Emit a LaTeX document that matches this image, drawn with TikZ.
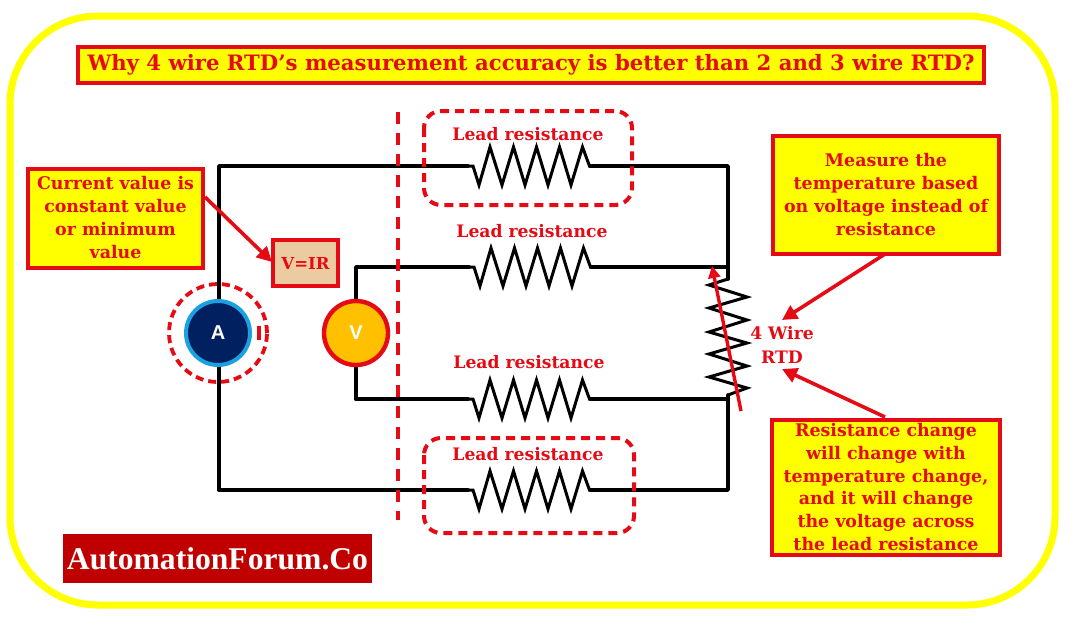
\documentclass[tikz,border=0pt]{standalone}
\usepackage{fontspec}
\setmainfont{DejaVu Serif}
\newfontfamily\logofont{Liberation Serif}
\newfontfamily\metersans{Liberation Sans}
\usetikzlibrary{arrows.meta}
\definecolor{rd}{HTML}{E60A14}
\definecolor{yl}{HTML}{FFFF00}
\definecolor{navy}{HTML}{002060}
\definecolor{sky}{HTML}{1BA1E2}
\definecolor{amber}{HTML}{FFC000}
\definecolor{tan}{HTML}{EBCB9F}
\definecolor{logored}{HTML}{C00000}
\tikzset{
  x=1pt,y=-1pt,
  wire/.style={draw=black,line width=3.6pt,line cap=round,line join=round},
  zigwire/.style={draw=black,line width=3pt,line join=miter},
  note/.style={draw=rd,line width=4pt,fill=yl,text=rd,font=\bfseries\fontsize{17.4}{23}\selectfont,align=center,inner sep=0pt,minimum width=0pt},
  lbl/.style={text=rd,font=\bfseries\fontsize{17.2}{23.5}\selectfont,align=center,inner sep=0pt},
  dashbox/.style={draw=rd,line width=4pt,dash pattern=on 9pt off 6pt,rounded corners=17pt},
  callout/.style={draw=rd,line width=3.6pt,-{Triangle[length=15pt,width=15pt]}},
}
\newcommand{\resistor}[3]{%
  \coordinate (#1a) at (#2,#3);
  \coordinate (#1b) at (#2+122,#3);
  \draw[zigwire] (#1a) -- ++(5,0) -- ++(6,19) -- ++(11,-38) -- ++(12,38) -- ++(11.5,-38) -- ++(11.5,38) -- ++(11.5,-38) -- ++(11.5,38) -- ++(11.5,-38) -- ++(11.5,38) -- ++(11.5,-38) -- ++(7,19) -- (#1b);
}
\begin{document}
\begin{tikzpicture}
\useasboundingbox (0,0) rectangle (1086,633);
\fill[white] (0,0) rectangle (1086,633);
\draw[yl,line width=7pt,rounded corners=88pt] (10,16) rectangle (1055,605);

% wires and resistors
\resistor{ra}{468}{166}
\resistor{rb}{469}{267}
\resistor{rc}{468}{399}
\resistor{rd}{468}{490}
\coordinate (tl) at (219,166);
\coordinate (bl) at (219,490);
\coordinate (tr) at (728,166);
\coordinate (br) at (728,490);
\coordinate (vt) at (356,267);
\coordinate (vb) at (356,399);
\coordinate (mt) at (728,267);
\coordinate (mb) at (728,399);
\coordinate (zt) at (728,279);
\coordinate (zb) at (728,395);
\draw[wire] (bl) -- (tl) -- (raa);
\draw[wire] (rab) -- (tr) -- (zt);
\draw[wire] (vb) -- (vt) -- (rba);
\draw[wire] (rbb) -- (mt);
\draw[wire] (vb) -- (rca);
\draw[wire] (rcb) -- (mb);
\draw[wire] (bl) -- (rda);
\draw[wire] (rdb) -- (br) -- (zb);
\draw[zigwire] (zt) -- (709,285) -- (747,297) -- (709,308) -- (747,320) -- (709,332) -- (747,343) -- (709,354) -- (747,366) -- (709,377) -- (747,388) -- (zb);

% separators and dashed groups
\coordinate (sepa) at (398,112);
\coordinate (sepb) at (398,520);
\draw[rd,line width=3.8pt,dash pattern=on 12pt off 9pt] (sepa) -- (sepb);
\draw[dashbox] (424,111) rectangle (632,205);
\draw[dashbox] (424,438) rectangle (634,533);

% title
\node[note,font=\bfseries\fontsize{21.2}{24}\selectfont,minimum width=906pt,minimum height=36pt] (title) at (531,64.5) {Why 4 wire RTD’s measurement accuracy is better than 2 and 3 wire RTD?};

% meters
\node[circle,draw=rd,line width=3.8pt,dash pattern=on 8pt off 5pt,minimum size=98pt,inner sep=0pt] (ring) at (218,333) {};
\draw[rd,line width=3.4pt] (259,326) -- (259,340);
\node[circle,draw=sky,line width=4pt,fill=navy,minimum size=64pt,inner sep=0pt,text=white,font=\metersans\bfseries\fontsize{20}{20}\selectfont] (amm) at (218,333) {A};
\node[circle,draw=rd,line width=4.4pt,fill=amber,minimum size=64pt,inner sep=0pt,text=white,font=\metersans\bfseries\fontsize{20}{20}\selectfont] (vm) at (356,333) {V};

% notes
\node[note,minimum width=175pt,minimum height=99pt] (cur) at (115.5,218) {Current value is\\constant value\\or minimum\\value};
\node[note,fill=tan,font=\bfseries\fontsize{16.5}{20}\selectfont,minimum width=65pt,minimum height=46pt] (vir) at (305.5,263) {V=IR};
\node[note,minimum width=226pt,minimum height=118pt] (meas) at (886,194.5) {Measure the\\temperature based\\on voltage instead of\\resistance};
\node[note,font=\bfseries\fontsize{17.4}{22.6}\selectfont,minimum width=228pt,minimum height=135pt] (chg) at (886,487) {Resistance change\\will change with\\temperature change,\\and it will change\\the voltage across\\the lead resistance};

% labels
\node[lbl] (la) at (528,134) {Lead resistance};
\node[lbl] (lb) at (532,231) {Lead resistance};
\node[lbl] (lc) at (529,362) {Lead resistance};
\node[lbl] (ld) at (528,454) {Lead resistance};
\node[lbl] (rtd) at (782,345) {4 Wire\\RTD};

% callout arrows
\coordinate (rs) at (741,411);
\coordinate (re) at (712,266);
\draw[rd,line width=3.4pt,-{Triangle[length=12pt,width=12pt]}] (rs) -- (re);
\coordinate (ca) at (205,197);
\coordinate (cb) at (272,262);
\draw[callout] (ca) -- (cb);
\coordinate (ma) at (885,254);
\coordinate (mb2) at (782,320);
\draw[callout] (ma) -- (mb2);
\coordinate (ga) at (885,417);
\coordinate (gb) at (782,369);
\draw[callout] (ga) -- (gb);

% logo
\node[fill=logored,text=white,font=\logofont\bfseries\fontsize{31.6}{32}\selectfont,minimum width=309pt,minimum height=49pt,inner sep=0pt] (logo) at (217.5,558.5) {AutomationForum.Co};
\end{tikzpicture}
\end{document}
